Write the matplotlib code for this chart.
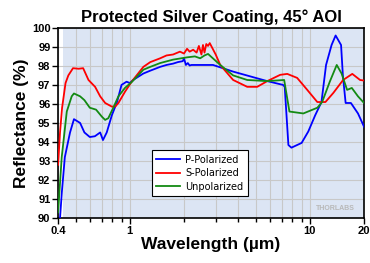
import matplotlib
matplotlib.use("Agg")
import matplotlib.pyplot as plt
from matplotlib.ticker import FixedLocator, NullFormatter

# ---- data ----
wl_p = [0.41, 0.42, 0.436, 0.466, 0.49, 0.53, 0.56, 0.60, 0.64, 0.685, 0.71, 0.745,
        0.795, 0.85, 0.90, 0.96, 1.0, 1.04, 1.19, 1.3, 1.475, 1.6, 1.74, 1.85, 1.97,
        2.0, 2.05, 2.1, 2.15, 2.2, 2.9, 3.75, 5.8, 7.1, 7.25, 7.6, 7.9, 9.0, 9.8,
        10.7, 11.6, 12.3, 13.2, 13.9, 14.9, 15.25, 15.8, 16.9, 18.5, 20]
R_p = [90.0, 91.4, 93.2, 94.5, 95.2, 95.0, 94.5, 94.26, 94.3, 94.5, 94.1, 94.5,
       95.4, 96.1, 97.0, 97.17, 97.1, 97.25, 97.6, 97.75, 97.95, 98.05, 98.12, 98.2, 98.25,
       98.4, 98.05, 98.15, 98.02, 98.05, 98.05, 97.7, 97.2, 97.0, 96.9, 93.84, 93.7, 93.95, 94.55,
       95.4, 96.1, 98.05, 99.1, 99.6, 99.1, 97.5, 96.05, 96.05, 95.5, 94.8]

wl_s = [0.4, 0.41, 0.421, 0.44, 0.456, 0.484, 0.52, 0.551, 0.59, 0.642, 0.685, 0.73,
        0.795, 0.83, 0.865, 0.942, 1.03, 1.19, 1.3, 1.475, 1.6, 1.74, 1.9, 2.0, 2.08,
        2.15, 2.25, 2.35, 2.42, 2.5, 2.55, 2.6, 2.66, 2.72, 2.78, 3.0, 3.18, 3.75, 4.49,
        5.1, 5.8, 6.84, 7.49, 8.5, 9.67, 11.0, 12.2, 13.5, 15.3, 17.2, 19.0, 20]
R_s = [92.8, 94.5, 95.8, 97.1, 97.5, 97.88, 97.85, 97.88, 97.26, 96.9, 96.4, 96.05,
       95.86, 95.86, 96.05, 96.65, 97.2, 97.95, 98.2, 98.4, 98.55, 98.6, 98.75, 98.65, 98.9,
       98.75, 98.85, 98.7, 99.05, 98.6, 99.1, 98.7, 99.15, 99.05, 99.2, 98.6, 98.05, 97.26, 96.9,
       96.9, 97.2, 97.53, 97.58, 97.37, 96.74, 96.1, 96.1, 96.58, 97.26, 97.58, 97.26, 97.23]

wl_u = [0.40, 0.419, 0.447, 0.476, 0.49, 0.53, 0.56, 0.60, 0.65, 0.70, 0.73, 0.76,
        0.81, 0.865, 0.94, 1.03, 1.19, 1.3, 1.475, 1.74, 2.08, 2.3, 2.46, 2.6, 2.72,
        3.18, 3.75, 4.49, 5.8, 7.2, 7.7, 9.2, 11.0, 11.7, 12.9, 14.1, 15.0, 16.1, 17.1, 18.5, 20]
R_u = [90.3, 93.2, 95.6, 96.4, 96.55, 96.4, 96.2, 95.8, 95.7, 95.33, 95.16, 95.25,
       95.8, 96.4, 96.84, 97.17, 97.8, 97.95, 98.15, 98.33, 98.45, 98.5, 98.4, 98.55, 98.63,
       98.05, 97.5, 97.26, 97.2, 97.26, 95.6, 95.5, 95.8, 96.1, 97.17, 98.05, 97.6, 96.74, 96.84, 96.4, 96.05]

series_labels = ["P-Polarized", "S-Polarized", "Unpolarized"]
series_colors = ["#0000ff", "#ff0000", "#138a13"]

x_ticks = [0.4, 1, 10, 20]
x_ticklabels = ["0.4", "1", "10", "20"]
x_minor = [0.5, 0.6, 0.7, 0.8, 0.9, 2, 3, 4, 5, 6, 7, 8, 9]
y_ticks = list(range(90, 101))

# ---- figure ----
plt.rcParams['font.family'] = ['Liberation Sans', 'DejaVu Sans']
fig = plt.figure(figsize=(3.7, 2.63), dpi=100)
ax = fig.add_axes([0.157, 0.171, 0.827, 0.723])

ax.set_xscale('log')
ax.set_xlim(0.4, 20)
ax.set_ylim(90, 100)

ax.axvspan(0.425, 20, color='#dce5f4', zorder=0, lw=0)

ax.xaxis.set_major_locator(FixedLocator(x_ticks))
ax.xaxis.set_minor_locator(FixedLocator(x_minor))
ax.xaxis.set_minor_formatter(NullFormatter())
ax.set_xticklabels(x_ticklabels)
ax.set_yticks(y_ticks)

ax.grid(True, which='both', color='#c8c8c8', lw=0.8, zorder=1)
ax.set_axisbelow(True)

for wl, R, lab, c in zip([wl_p, wl_s, wl_u], [R_p, R_s, R_u], series_labels, series_colors):
    ax.plot(wl, R, color=c, lw=1.3, label=lab, zorder=3)

leg = ax.legend(loc='lower left', bbox_to_anchor=(0.29, 0.09), fontsize=7,
                frameon=True, fancybox=False, edgecolor='black', framealpha=1,
                handlelength=2.5, borderpad=0.45, labelspacing=0.35, handletextpad=0.5)
leg.get_frame().set_linewidth(0.8)
for t in leg.get_texts():
    t.set_fontfamily('DejaVu Sans')

ax.text(0.97, 0.05, "THORLABS", transform=ax.transAxes, ha='right', va='center',
        fontsize=5, color='#b8b8b8', fontweight='bold')

for s in ax.spines.values():
    s.set_linewidth(1.2)
    s.set_color('black')

ax.tick_params(axis='both', which='major', direction='out', length=4, width=1,
               labelsize=8, pad=1.5)
ax.tick_params(axis='x', which='minor', direction='out', length=3, width=1)
for lbl in ax.get_xticklabels() + ax.get_yticklabels():
    lbl.set_fontweight('bold')

ax.set_title("Protected Silver Coating, 45° AOI", fontsize=12, fontweight='bold', pad=4)
ax.set_ylabel("Reflectance (%)", fontsize=12.5, fontweight='bold', labelpad=2)
ax.set_xlabel("Wavelength (µm)", fontsize=12.5, fontweight='bold', labelpad=1)

fig.savefig("out.png", dpi=100)
